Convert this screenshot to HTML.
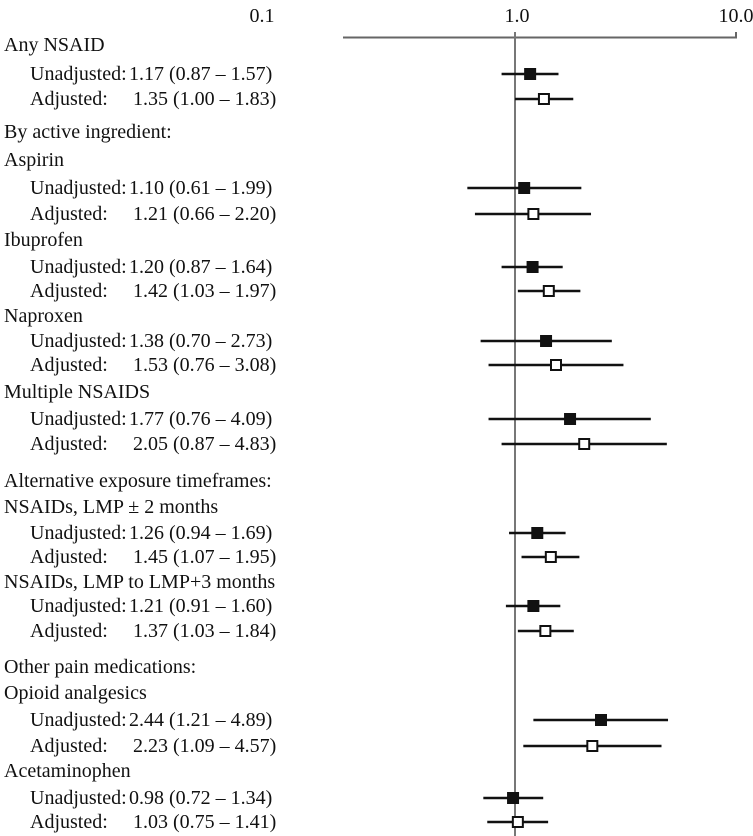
<!DOCTYPE html>
<html><head><meta charset="utf-8"><style>
body{margin:0;background:#fff;}
svg{display:block;font-family:"Liberation Serif",serif;font-size:20px;fill:#111;}
</style></head><body>
<svg id="s" width="753" height="836" xmlns="http://www.w3.org/2000/svg">
<text x="262" y="22" text-anchor="middle">0.1</text>
<text x="517" y="22" text-anchor="middle">1.0</text>
<text x="736" y="22" text-anchor="middle">10.0</text>
<line x1="343" y1="37.5" x2="737" y2="37.5" stroke="#666" stroke-width="2"/>
<line x1="736" y1="32" x2="736" y2="38" stroke="#666" stroke-width="2"/>
<line x1="515" y1="32" x2="515" y2="836" stroke="#777" stroke-width="2"/>
</svg>
<script>
var s=document.getElementById('s'),NS="http://www.w3.org/2000/svg";
function el(t,a,txt){var e=document.createElementNS(NS,t);for(var k in a)e.setAttribute(k,a[k]);if(txt)e.textContent=txt;s.appendChild(e);}
function X(v){return 515+Math.log10(v)*222;}
var rows=[
["h",45,"Any NSAID"],["u",74,1.17,0.87,1.57],["a",99,1.35,1.00,1.83],
["h",132,"By active ingredient:"],["h",160,"Aspirin"],["u",188,1.10,0.61,1.99],["a",214,1.21,0.66,2.20],
["h",240,"Ibuprofen"],["u",267,1.20,0.87,1.64],["a",291,1.42,1.03,1.97],
["h",316,"Naproxen"],["u",341,1.38,0.70,2.73],["a",365,1.53,0.76,3.08],
["h",392,"Multiple NSAIDS"],["u",419,1.77,0.76,4.09],["a",444,2.05,0.87,4.83],
["h",481,"Alternative exposure timeframes:"],["h",507,"NSAIDs, LMP \u00b1 2 months"],["u",533,1.26,0.94,1.69],["a",557,1.45,1.07,1.95],
["h",582,"NSAIDs, LMP to LMP+3 months"],["u",606,1.21,0.91,1.60],["a",631,1.37,1.03,1.84],
["h",667,"Other pain medications:"],["h",693,"Opioid analgesics"],["u",720,2.44,1.21,4.89],["a",746,2.23,1.09,4.57],
["h",771,"Acetaminophen"],["u",798,0.98,0.72,1.34],["a",822,1.03,0.75,1.41]];
rows.forEach(function(r){
 var y=r[1];
 if(r[0]=="h"){el("text",{x:4,y:y+6},r[2]);return;}
 el("text",{x:30,y:y+6},r[0]=="u"?"Unadjusted:":"Adjusted:");
 el("text",{x:r[0]=="u"?129:133,y:y+6},r[2].toFixed(2)+" ("+r[3].toFixed(2)+" \u2013 "+r[4].toFixed(2)+")");
 el("line",{x1:X(r[3]),y1:y,x2:X(r[4]),y2:y,stroke:"#111","stroke-width":2.5});
 var cx=X(r[2]);
 if(r[0]=="u")el("rect",{x:cx-6,y:y-6,width:12,height:12,fill:"#111"});
 else el("rect",{x:cx-5,y:y-5,width:10,height:10,fill:"#fff",stroke:"#111","stroke-width":2});
});
</script>
</body></html>
